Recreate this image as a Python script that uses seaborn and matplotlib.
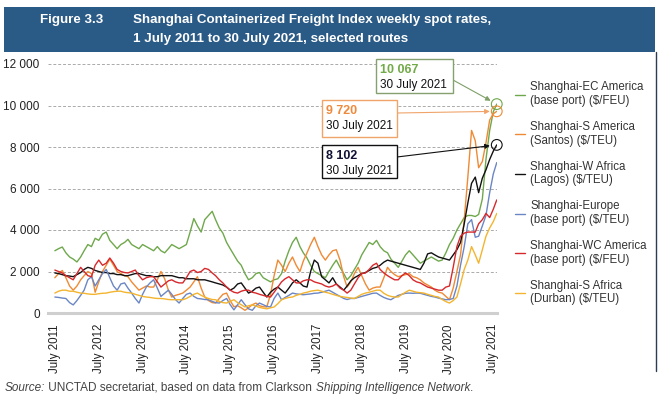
import matplotlib
matplotlib.use("Agg")
import matplotlib.pyplot as plt
from matplotlib.lines import Line2D
from matplotlib.patches import Rectangle
import pandas as pd
import seaborn as sns

W, H = 660, 401

# monthly readings, July 2011 .. July 2021, plus the 30 July 2021 value
dates = list(pd.date_range("2011-07-01", "2021-07-01", freq="MS")) + [pd.Timestamp("2021-07-30")]

ec_america = [
    3000, 3100, 3180, 2900, 2700, 2600, 2460, 2700, 3000, 3300,
    3200, 3600, 3500, 3800, 3900, 3500, 3300, 3100, 3300, 3400,
    3550, 3300, 3200, 3100, 3300, 3200, 3100, 3000, 3200, 3000,
    2900, 3100, 3300, 3200, 3100, 3200, 3300, 3900, 4550, 4200,
    3900, 4500, 4700, 4900, 4500, 4100, 3850, 3400, 3100, 2800,
    2500, 2300, 1900, 1600, 1700, 1900, 1950, 1700, 1600, 1500,
    1600, 1650, 1900, 2500, 3000, 3400, 3650, 3200, 2900, 2650,
    2300, 2000, 1900, 1800, 1700, 2000, 2300, 2550, 2200, 1900,
    1600, 1800, 2100, 2400, 2800, 3100, 3400, 3300, 3500, 3200,
    3000, 2900, 2600, 2400, 2200, 2500, 2800, 3000, 2800, 2600,
    2400, 2500, 2600, 2700, 2600, 2500, 2550, 2900, 3300, 3600,
    4000, 4300, 4600, 4700, 4700, 4650, 4750, 5500, 7400, 8800,
    9700, 10067,
]
s_america = [
    1700, 1900, 2050, 1700, 1300, 1100, 1300, 1600, 1800, 2000,
    1900, 1000, 1500, 2000, 2300, 2600, 2300, 2000, 1900, 1800,
    1750, 1500, 1300, 1100, 1200, 1300, 1250, 1250, 1600, 2000,
    1650, 1100, 770, 850, 900, 960, 1100, 1250, 1500, 1750,
    1200, 770, 600, 500, 480, 700, 900, 960, 600, 300,
    350, 250, 130, 250, 400, 480, 350, 300, 290, 900,
    1800, 2550, 2300, 2000, 2400, 2700, 2300, 2000, 2500, 2900,
    3300, 3650, 3200, 2800, 2550, 2800, 3000, 3050, 2550, 1750,
    1250, 1500, 1900, 2200, 1800, 1400, 1100, 1200, 1250, 1250,
    1700, 2200, 2000, 1850, 1750, 1800, 1850, 1900, 1750, 1700,
    1600, 1450, 1350, 1250, 1100, 1000, 960, 800, 640, 1200,
    2000, 2800, 4500, 6550, 8800, 8300, 7000, 7300, 8200, 9300,
    9600, 9720,
]
w_africa = [
    1930, 1900, 1850, 1800, 1780, 1750, 1850, 1950, 2100, 2200,
    2150, 2050, 2000, 1950, 1950, 1900, 1900, 1850, 1850, 1800,
    1800, 1850, 1900, 1900, 1850, 1800, 1800, 1750, 1750, 1800,
    1800, 1800, 1800, 1750, 1700, 1700, 1650, 1650, 1650, 1600,
    1600, 1600, 1550, 1500, 1450, 1400, 1350, 1250, 1100, 1200,
    1400, 1450, 1200, 960, 1050, 1200, 1250, 1000, 770, 1000,
    1150, 1250, 1100, 960, 1200, 1450, 1600, 1450, 1300, 1250,
    2000, 2550, 2400, 1750, 1600, 1450, 1700, 1400, 1250, 1100,
    1300, 1550, 1700, 1800, 1900, 1950, 2050, 2150, 2200, 2300,
    2450, 2550, 2500, 2450, 2400, 2350, 2300, 2250, 2200, 2150,
    2100, 2400, 2850, 2900, 2800, 2700, 2650, 2600, 2550, 2800,
    3050, 3400, 4300, 5300, 6250, 6550, 5800, 6500, 6900, 7400,
    7800, 8102,
]
europe = [
    770, 750, 720, 700, 500, 390, 600, 850, 1100, 1600,
    1750, 1300, 1600, 1900, 2100, 1700, 1300, 1100, 1400, 1450,
    1200, 960, 700, 480, 900, 1250, 1450, 1600, 1200, 800,
    950, 1100, 900, 650, 480, 700, 900, 960, 800, 700,
    680, 650, 640, 560, 500, 480, 600, 700, 400, 150,
    400, 640, 400, 200, 130, 350, 480, 400, 320, 290,
    700, 960, 640, 750, 850, 960, 920, 900, 880, 900,
    920, 950, 960, 1000, 1050, 1100, 1000, 900, 800, 700,
    650, 700, 700, 750, 800, 850, 900, 950, 960, 850,
    750, 680, 640, 750, 850, 900, 950, 960, 950, 960,
    950, 900, 850, 800, 770, 720, 680, 640, 650, 700,
    1300, 2300, 3200, 4300, 4500, 3650, 3700, 4200, 4700, 5800,
    6700, 7250,
]
wc_america = [
    2070, 2000, 1930, 1800, 1700, 1600, 1900, 2200, 2000, 1800,
    1750, 2300, 2550, 2300, 2400, 2650, 2400, 2100, 2000, 1950,
    1930, 2000, 2070, 1800, 1600, 1700, 1750, 1750, 1500, 1250,
    1400, 1550, 1600, 1500, 1450, 1450, 1700, 2000, 2070, 1950,
    2000, 2150, 2100, 1930, 1800, 1600, 1450, 1250, 1100, 1000,
    960, 1050, 1100, 1100, 1000, 960, 900, 850, 800, 770,
    1000, 1250, 1500, 1650, 1750, 1600, 1450, 1450, 1550, 1600,
    1600, 1500, 1450, 1400, 1300, 1250, 1300, 1400, 1200, 1100,
    960, 1100, 1400, 1700, 1900, 1930, 2100, 2300, 2400, 2100,
    1930, 1800, 1700, 1600, 1600, 1800, 1930, 1800, 1600, 1500,
    1450, 1350, 1250, 1200, 1150, 1100, 1100, 1250, 1300, 2200,
    3200, 3700, 3850, 3900, 3900, 3900, 4300, 4500, 4800, 4600,
    5000, 5450,
]
s_africa = [
    960, 1050, 1100, 1100, 1050, 1050, 1000, 960, 950, 920,
    900, 900, 930, 950, 960, 1000, 1030, 1050, 1050, 1000,
    980, 960, 900, 850, 800, 770, 750, 720, 700, 700,
    680, 650, 640, 640, 640, 640, 700, 800, 900, 960,
    850, 770, 700, 650, 640, 560, 500, 480, 560, 640,
    500, 400, 290, 350, 390, 330, 270, 230, 200, 250,
    290, 450, 640, 700, 750, 770, 850, 900, 960, 1000,
    1050, 1080, 1100, 1050, 1000, 960, 900, 850, 800, 770,
    750, 720, 700, 800, 900, 960, 1000, 1050, 1100, 1100,
    950, 850, 800, 770, 770, 900, 1000, 1100, 1050, 1000,
    980, 960, 900, 850, 800, 770, 650, 550, 480, 600,
    770, 1400, 2100, 2550, 3200, 2800, 2400, 3050, 3700, 4100,
    4400, 4800,
]

routes = [
    "Shanghai-EC America\n(base port) ($/FEU)",
    "Shanghai-S America\n(Santos) ($/TEU)",
    "Shanghai-W Africa\n(Lagos) ($/TEU)",
    "Shanghai-Europe\n(base port) ($/TEU)",
    "Shanghai-WC America\n(base port) ($/FEU)",
    "Shanghai-S Africa\n(Durban) ($/TEU)",
]
colors = ["#6fa84c", "#ef8a34", "#111111", "#6b86c4", "#d7282c", "#f3b530"]
series = [ec_america, s_america, w_africa, europe, wc_america, s_africa]

tick_years = list(range(2011, 2022))
y_ticks = [0, 2000, 4000, 6000, 8000, 10000, 12000]

# last-week callouts: (route index, label)
callouts = [(0, "10 067"), (1, "9 720"), (2, "8 102")]

df = pd.DataFrame({
    "date": dates * len(routes),
    "rate": [v for s in series for v in s],
    "route": [r for r in routes for _ in dates],
})

sns.set_style("white")
plt.rcParams["font.family"] = ["Liberation Sans", "DejaVu Sans"]

fig = plt.figure(figsize=(W / 100, H / 100), dpi=100)


def fxy(px, py):
    return px / W, 1 - py / H


ax = fig.add_axes([48 / W, 1 - 313 / H, (497 - 48) / W, (313 - 64) / H])
sns.lineplot(data=df, x="date", y="rate", hue="route", hue_order=routes,
             palette=colors, linewidth=1.0, ax=ax)

handles, labels = ax.get_legend_handles_labels()
ax.get_legend().remove()

ax.set_xlim(pd.Timestamp("2011-05-05"), pd.Timestamp("2021-08-01"))
ax.set_ylim(0, 12000)
ax.set_xticks([pd.Timestamp(f"{y}-07-01") for y in tick_years])
ax.set_xticklabels([f"July {y}" for y in tick_years], rotation=90, fontsize=8.3, color="#222222")
ax.set_yticks(y_ticks)
ax.set_yticklabels([f"{v:,}".replace(",", " ") for v in y_ticks], fontsize=8.5, color="#222222")
ax.tick_params(length=0, pad=6)
ax.tick_params(axis="x", pad=8)
ax.set_xlabel("")
ax.set_ylabel("")
ax.yaxis.grid(True, linestyle=(0, (3, 2)), color="#aaaaaa", linewidth=0.7)
ax.set_axisbelow(True)
for side in ["top", "right", "left"]:
    ax.spines[side].set_visible(False)
ax.spines["bottom"].set_color("#cfcfcf")
ax.spines["bottom"].set_linewidth(2.2)

# end-point circles and callout boxes
end = dates[-1]
boxes = {0: (376, 59, 453, 93), 1: (322, 100, 397, 137), 2: (322, 145, 397, 178)}
box_edges = {0: "#86a070", 1: "#f0a46a", 2: "#111111"}
value_colors = {0: "#72aa48", 1: "#ef8a3c", 2: "#111133"}
for i, label in callouts:
    val = series[i][-1]
    ax.scatter([end], [val], s=60, facecolors="none", edgecolors=colors[i],
               linewidths=0.8, clip_on=False, zorder=6)
    x0, y0, x1, y1 = boxes[i]
    fig.patches.append(Rectangle(fxy(x0, y1), (x1 - x0) / W, (y1 - y0) / H,
                                 transform=fig.transFigure, facecolor="white",
                                 edgecolor=box_edges[i], linewidth=1.0, zorder=5))
    fig.text(*fxy(x0 + 4, y0 + 11), label, fontsize=9, fontweight="bold",
             color=value_colors[i], va="center", zorder=6)
    fig.text(*fxy(x0 + 4, y0 + 26), "30 July 2021", fontsize=8.5,
             color="#111111", va="center", zorder=6)
    start_y = y0 + 21 if i == 0 else (y0 + 13 if i == 1 else y0 + 12)
    ax.annotate("", xy=(end, val), xycoords="data",
                xytext=fxy(x1, start_y), textcoords="figure fraction",
                arrowprops=dict(arrowstyle="-|>", color=box_edges[i] if i != 0 else "#7f9f68",
                                lw=0.8, shrinkA=0, shrinkB=5, mutation_scale=7))

# legend on the right
fig.legend(handles, labels, loc="upper left", bbox_to_anchor=fxy(505, 71),
           frameon=False, fontsize=8.3, handlelength=0.8, handletextpad=0.5,
           labelspacing=1.2, labelcolor="#333333")

# title banner
fig.patches.append(Rectangle(fxy(4, 52), (655 - 4) / W, 45 / H,
                             transform=fig.transFigure, facecolor="#2a5a86",
                             edgecolor="none", zorder=0))
fig.text(*fxy(40, 20), "Figure 3.3", color="white", fontsize=9.6,
         fontweight="bold", va="center")
fig.text(*fxy(133, 20), "Shanghai Containerized Freight Index weekly spot rates,",
         color="white", fontsize=9.6, fontweight="bold", va="center")
fig.text(*fxy(133, 39), "1 July 2011 to 30 July 2021, selected routes",
         color="white", fontsize=9.6, fontweight="bold", va="center")

# right frame edge
fig.add_artist(Line2D([656 / W, 656 / W], [1 - 52 / H, 1 - 371 / H],
                      transform=fig.transFigure, color="#2b3d55", linewidth=1.0))

# source line with mixed italics
renderer = fig.canvas.get_renderer()
x_px = 5
for txt, style in [("Source:", "italic"),
                   (" UNCTAD secretariat, based on data from Clarkson ", "normal"),
                   ("Shipping Intelligence Network", "italic"),
                   (".", "normal")]:
    t = fig.text(*fxy(x_px, 388), txt, fontsize=8.5, style=style,
                 color="#444444", va="center")
    x_px += t.get_window_extent(renderer).width

fig.savefig("out.png", dpi=100)
